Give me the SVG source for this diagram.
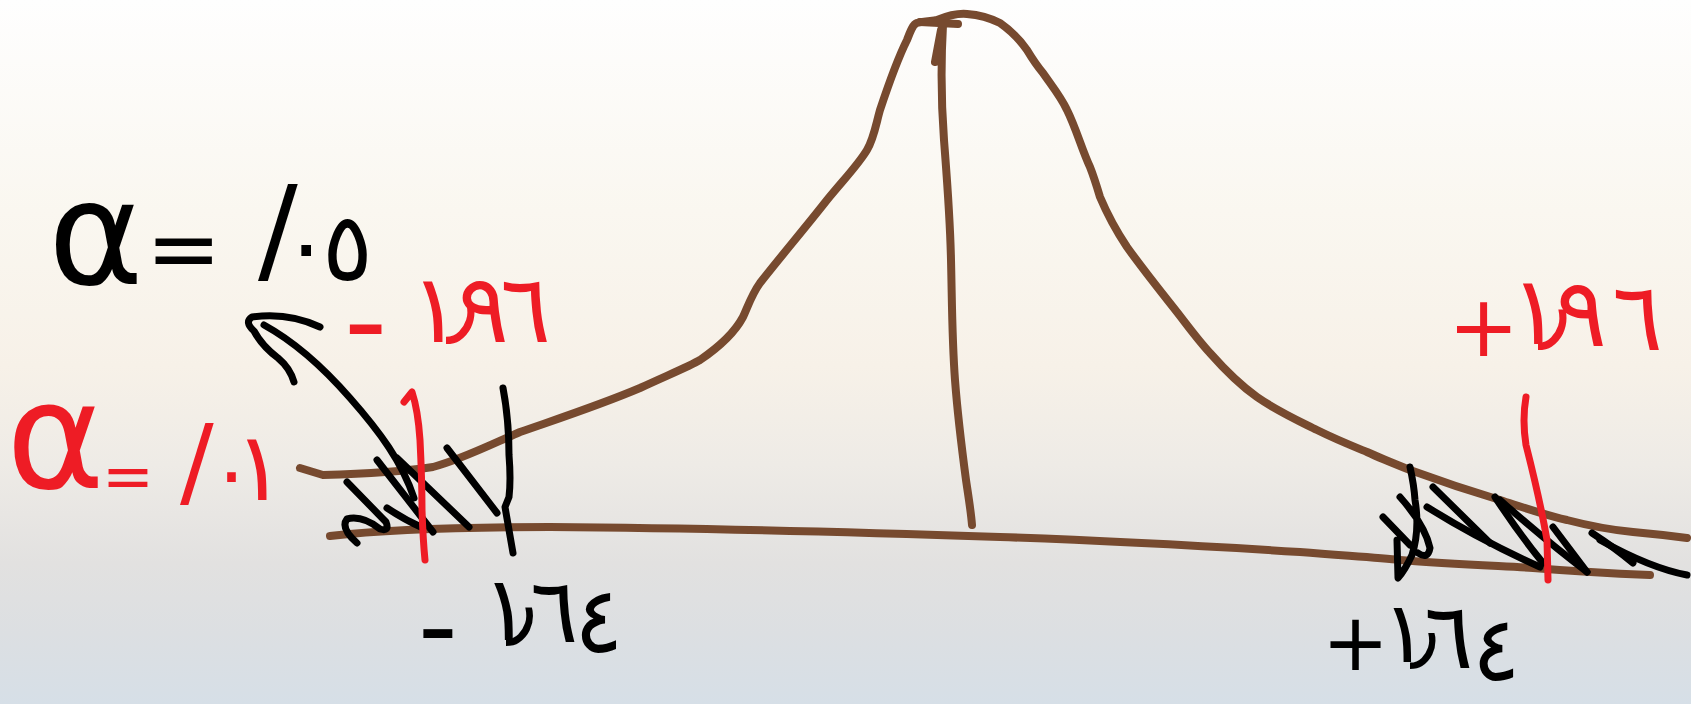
<svg xmlns="http://www.w3.org/2000/svg" width="1691" height="704" viewBox="0 0 1691 704">
<defs>
<linearGradient id="bg" x1="0" y1="0" x2="0" y2="1">
<stop offset="0" stop-color="#fefefe"/>
<stop offset="0.3" stop-color="#faf7f0"/>
<stop offset="0.52" stop-color="#f7f1e8"/>
<stop offset="0.66" stop-color="#eeebe6"/>
<stop offset="0.8" stop-color="#e2e1e0"/>
<stop offset="0.9" stop-color="#dcdfe2"/>
<stop offset="1" stop-color="#d6dfe7"/>
</linearGradient>
<style>
.brown{fill:none;stroke:#774a2f;stroke-width:8;stroke-linecap:round;stroke-linejoin:round}
.ink{fill:none;stroke:#000;stroke-width:7;stroke-linecap:round;stroke-linejoin:round}
.redl{fill:none;stroke:#ee1c25;stroke-width:7;stroke-linecap:round;stroke-linejoin:round}
.t{font-family:"DejaVu Sans","Noto Sans",sans-serif}
.k{fill:#000}
.r{fill:#ee1c25}
</style>
</defs>
<rect width="1691" height="704" fill="url(#bg)"/>

<g id="curve">
<path class="brown" d="M300 468 L323 475 C360 474 400 472 433 467 C460 460 490 445 520 432 C560 418 600 405 640 388 C668 375 690 366 700 360 C722 345 735 332 743 317 C748 306 752 294 760 283 C782 255 805 228 827 200 C845 178 858 165 867 150 C874 138 876 124 880 110 C888 86 898 58 907 40 C910 32 913 24 917 23 C924 21 932 21 937 20 C947 16 956 13 967 14 C980 15 992 19 1000 23 C1010 30 1020 40 1027 50 C1033 60 1038 67 1043 73 C1052 86 1061 97 1067 110 C1076 128 1082 150 1090 167 C1094 177 1097 187 1100 197 C1108 216 1117 232 1127 247 C1142 268 1158 288 1173 307 C1185 322 1197 339 1210 353 C1225 370 1240 385 1257 397 C1277 411 1297 420 1317 430 C1335 439 1350 445 1367 452 C1380 458 1395 464 1410 470 C1440 481 1470 491 1500 500 C1525 508 1545 515 1567 520 C1590 526 1612 530 1633 532 C1655 534 1672 536 1687 538"/>
<path class="brown" stroke-width="6" d="M330 536 C380 530 440 527 550 527 C700 528 850 532 1000 537 C1120 541 1220 547 1300 552 C1350 556 1380 558 1400 560 C1450 564 1500 566 1533 568 C1570 571 1600 573 1650 575"/>
<path class="brown" stroke-width="7" d="M935 62 L941 30 M920 22 L958 24 M943 25 C941 60 941 100 944 140 C947 180 950 215 951 260 C952 300 952 340 955 380 C958 420 962 450 966 480 C969 500 971 512 972 525"/>
</g>

<g id="connectors">
<path class="ink" d="M414 498 C402 462 380 432 350 398 C322 366 295 342 264 325"/>
<path class="ink" d="M320 327 Q288 312 252 317 Q244 322 254 331 Q262 346 278 358 Q290 368 294 382"/>
</g>

<g id="left-tail">
<path class="ink" d="M347 482 L386 522 Q390 532 380 529 Q362 515 347 519 Q340 528 357 543"/>
<path class="ink" d="M377 460 L433 532"/>
<path class="ink" d="M397 458 Q420 480 469 527"/>
<path class="ink" d="M387 508 Q405 520 423 528"/>
<path class="ink" d="M447 448 L497 513"/>
<path class="ink" stroke-width="10" d="M503 388 Q509 420 509 455 Q511 480 509 497 L505 507 L513 553"/>
<path class="redl" d="M404 402 L412 392 Q418 410 420 440 Q422 480 422 510 Q423 540 425 560"/>
</g>

<g id="right-tail">
<path class="ink" d="M1410 467 Q1414 485 1415 500 Q1420 530 1412 555 Q1405 570 1398 578 L1397 540 M1400 497 Q1425 525 1430 548 Q1428 560 1418 553 M1383 517 L1410 545"/>
<path class="ink" d="M1433 487 L1490 543"/>
<path class="ink" d="M1427 507 Q1480 540 1540 567"/>
<path class="ink" d="M1495 497 Q1520 535 1543 563"/>
<path class="ink" d="M1500 500 Q1545 540 1587 572"/>
<path class="ink" d="M1553 527 L1587 572"/>
<path class="ink" d="M1592 533 Q1615 548 1633 563"/>
<path class="ink" d="M1600 540 Q1650 568 1687 575"/>
<path class="redl" d="M1526 397 Q1522 420 1526 445 Q1540 500 1547 540 L1548 580"/>
</g>

<g id="label-alpha-05">
<text class="t k"><tspan x="48" y="284" font-size="145">α</tspan><tspan x="146" y="280" font-size="90">=</tspan><tspan x="258" y="270" font-size="118">/</tspan><tspan x="282" y="276" font-size="90">٠</tspan><tspan x="322" y="280" font-size="95">٥</tspan></text>
</g>
<g id="label-alpha-01">
<text class="t r"><tspan x="6" y="488" font-size="150">α</tspan><tspan x="102" y="498" font-size="62">=</tspan><tspan x="180" y="496" font-size="100">/</tspan><tspan x="210" y="500" font-size="80">٠</tspan><tspan x="234" y="500" font-size="95">١</tspan></text>
</g>
<g id="label-red-left">
<text class="t r"><tspan x="344" y="362" font-size="120">-</tspan><tspan x="410" y="342" font-size="95">١</tspan><tspan x="446" y="334" font-size="95">٫</tspan><tspan x="458" y="342" font-size="95">٩</tspan><tspan x="500" y="342" font-size="95">٦</tspan></text>
</g>
<g id="label-red-right">
<text class="t r"><tspan x="1448" y="356" font-size="85">+</tspan><tspan x="1510" y="344" font-size="95">١</tspan><tspan x="1538" y="340" font-size="95">٫</tspan><tspan x="1556" y="346" font-size="95">٩</tspan><tspan x="1612" y="350" font-size="95">٦</tspan></text>
</g>
<g id="label-black-left">
<text class="t k"><tspan x="418" y="664" font-size="110">-</tspan><tspan x="482" y="640" font-size="90">١</tspan><tspan x="506" y="636" font-size="90">٫</tspan><tspan x="530" y="642" font-size="90">٦</tspan><tspan x="574" y="652" font-size="92">٤</tspan></text>
</g>
<g id="label-black-right">
<text class="t k"><tspan x="1322" y="670" font-size="80">+</tspan><tspan x="1382" y="662" font-size="85">١</tspan><tspan x="1410" y="660" font-size="85">٫</tspan><tspan x="1424" y="668" font-size="92">٦</tspan><tspan x="1472" y="680" font-size="90">٤</tspan></text>
</g>
</svg>
